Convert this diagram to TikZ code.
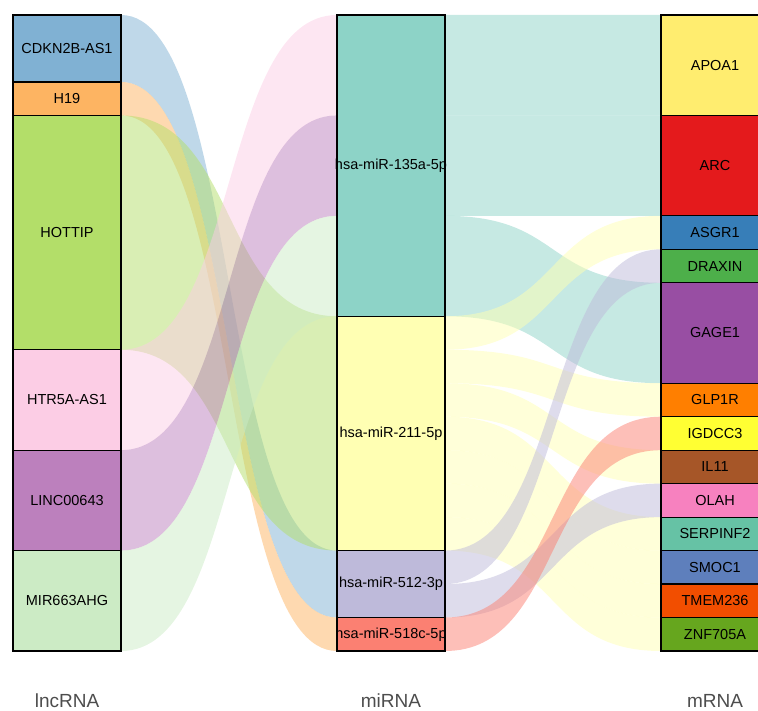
\documentclass[tikz,border=0pt]{standalone}
\usepackage{fontspec}
\setmainfont{Liberation Sans}
\usepackage{tikz}
\usetikzlibrary{positioning,calc,backgrounds}

\definecolor{cdkn}{HTML}{80B1D3}
\definecolor{hnin}{HTML}{FDB462}
\definecolor{hott}{HTML}{B3DE69}
\definecolor{htr}{HTML}{FCCDE5}
\definecolor{linc}{HTML}{BC80BD}
\definecolor{mirhg}{HTML}{CCEBC5}
\definecolor{mir135}{HTML}{8DD3C7}
\definecolor{mir211}{HTML}{FFFFB3}
\definecolor{mir512}{HTML}{BEBADA}
\definecolor{mir518}{HTML}{FB8072}
\definecolor{apoa}{HTML}{FFED6F}
\definecolor{arc}{HTML}{E41A1C}
\definecolor{asgr}{HTML}{377EB8}
\definecolor{drax}{HTML}{4DAF4A}
\definecolor{gage}{HTML}{984EA3}
\definecolor{glp}{HTML}{FF7F00}
\definecolor{igdcc}{HTML}{FFFF33}
\definecolor{ilel}{HTML}{A65628}
\definecolor{olah}{HTML}{F781BF}
\definecolor{serp}{HTML}{66C2A5}
\definecolor{smoc}{HTML}{5E7FBC}
\definecolor{tmem}{HTML}{F24E00}
\definecolor{znf}{HTML}{66A61E}
\definecolor{axisgray}{HTML}{4D4D4D}

\def\u{33.4737}
\def\bend{118}

% band from a slice of one box to a slice of the next column
\newcommand{\flow}[7]{%
  \fill[#1, fill opacity=0.5]
    ($(#2.north east)!#3!(#2.south east)$)
    .. controls +(\bend,0) and +(-\bend,0) ..
    ($(#5.north west)!#6!(#5.south west)$)
    -- ($(#5.north west)!#7!(#5.south west)$)
    .. controls +(-\bend,0) and +(\bend,0) ..
    ($(#2.north east)!#4!(#2.south east)$) -- cycle;}

\begin{document}
\begin{tikzpicture}[x=1pt, y=-1pt, node distance=0pt]
\tikzstyle{box}=[draw=black, line width=1.2pt, minimum width=108, minimum height=\u, inner sep=0, outer sep=0, text=black, font=\fontsize{14.5}{17}\selectfont]
\tikzstyle{axislab}=[text=axisgray, font=\fontsize{19}{22}\selectfont]
\clip (0,0) rectangle (758,711);

% lncRNA
\node[box, fill=cdkn, minimum height=2*\u, anchor=north west] (cdkn) at (13,15) {CDKN2B-AS1};
\node[box, fill=hnin]                        (h19)   [below=of cdkn]  {H19};
\node[box, fill=hott,  minimum height=7*\u]  (hottip)[below=of h19]   {HOTTIP};
\node[box, fill=htr,   minimum height=3*\u]  (htr)   [below=of hottip]{HTR5A-AS1};
\node[box, fill=linc,  minimum height=3*\u]  (linc)  [below=of htr]   {LINC00643};
\node[box, fill=mirhg, minimum height=3*\u]  (mirhg) [below=of linc]  {MIR663AHG};

% miRNA
\node[box, fill=mir135, minimum height=9*\u, anchor=north west] (m135) at (337,15) {\makebox[0pt]{hsa-miR-135a-5p}};
\node[box, fill=mir211, minimum height=7*\u] (m211) [below=of m135] {\makebox[0pt]{hsa-miR-211-5p}};
\node[box, fill=mir512, minimum height=2*\u] (m512) [below=of m211] {\makebox[0pt]{hsa-miR-512-3p}};
\node[box, fill=mir518]                      (m518) [below=of m512] {\makebox[0pt]{hsa-miR-518c-5p}};

% mRNA
\node[box, fill=apoa, minimum height=3*\u, anchor=north west] (apoa) at (661,15) {APOA1};
\node[box, fill=arc,  minimum height=3*\u] (arc)   [below=of apoa]  {ARC};
\node[box, fill=asgr]                      (asgr)  [below=of arc]   {ASGR1};
\node[box, fill=drax]                      (drax)  [below=of asgr]  {DRAXIN};
\node[box, fill=gage, minimum height=3*\u] (gage)  [below=of drax]  {GAGE1};
\node[box, fill=glp]                       (glp)   [below=of gage]  {GLP1R};
\node[box, fill=igdcc]                     (igdcc) [below=of glp]   {IGDCC3};
\node[box, fill=ilel]                      (il11)  [below=of igdcc] {IL11};
\node[box, fill=olah]                      (olah)  [below=of il11]  {OLAH};
\node[box, fill=serp]                      (serp)  [below=of olah]  {SERPINF2};
\node[box, fill=smoc]                      (smoc)  [below=of serp]  {SMOC1};
\node[box, fill=tmem]                      (tmem)  [below=of smoc]  {TMEM236};
\node[box, fill=znf]                       (znf)   [below=of tmem]  {ZNF705A};

% column titles
\node[axislab] (tlnc) at ($(mirhg.south)+(0,50)$) {lncRNA};
\node[axislab] (tmi)  at ($(m518.south)+(0,50)$)  {miRNA};
\node[axislab] (tm)   at ($(znf.south)+(0,50)$)   {mRNA};

\begin{scope}[on background layer]
% lncRNA -> miRNA
\flow{cdkn}{cdkn}{0}{1}{m512}{0}{1}
\flow{hnin}{h19}{0}{1}{m518}{0}{1}
\flow{hott}{hottip}{0}{1}{m211}{0}{1}
\flow{htr}{htr}{0}{1}{m135}{0}{1/3}
\flow{linc}{linc}{0}{1}{m135}{1/3}{2/3}
\flow{mirhg}{mirhg}{0}{1}{m135}{2/3}{1}
% miRNA -> mRNA
\flow{mir135}{m135}{0}{1/3}{apoa}{0}{1}
\flow{mir135}{m135}{1/3}{2/3}{arc}{0}{1}
\flow{mir135}{m135}{2/3}{1}{gage}{0}{1}
\flow{mir211}{m211}{0}{1/7}{asgr}{0}{1}
\flow{mir211}{m211}{1/7}{2/7}{glp}{0}{1}
\flow{mir211}{m211}{2/7}{3/7}{il11}{0}{1}
\flow{mir211}{m211}{3/7}{4/7}{serp}{0}{1}
\flow{mir211}{m211}{4/7}{5/7}{smoc}{0}{1}
\flow{mir211}{m211}{5/7}{6/7}{tmem}{0}{1}
\flow{mir211}{m211}{6/7}{1}{znf}{0}{1}
\flow{mir512}{m512}{0}{1/2}{drax}{0}{1}
\flow{mir512}{m512}{1/2}{1}{olah}{0}{1}
\flow{mir518}{m518}{0}{1}{igdcc}{0}{1}
\end{scope}
\end{tikzpicture}
\end{document}
